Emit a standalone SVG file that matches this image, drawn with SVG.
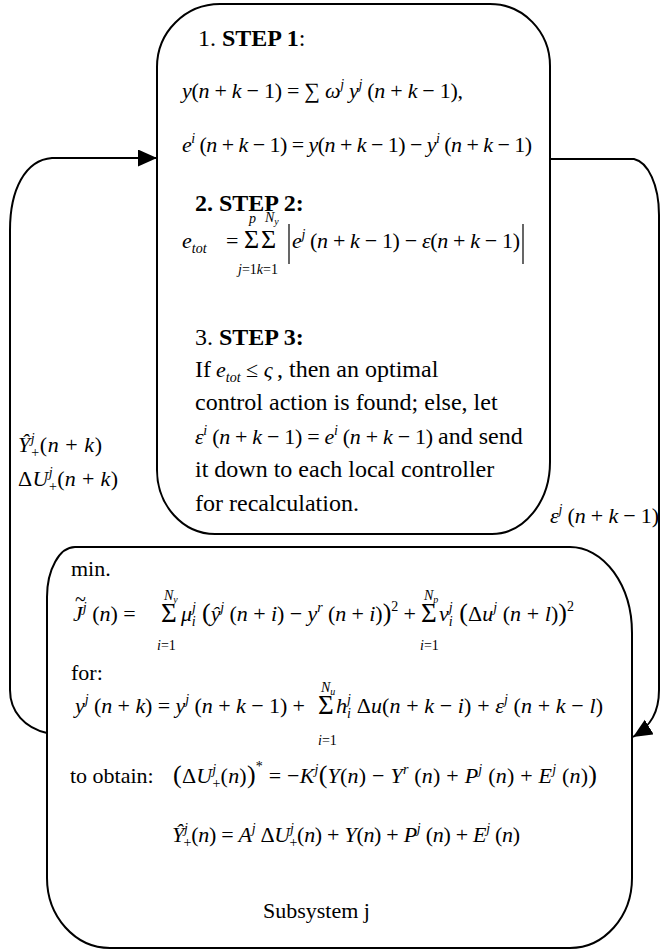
<svg xmlns="http://www.w3.org/2000/svg" width="661" height="951" viewBox="0 0 661 951">
<defs>
<style>
.t{font-family:"Liberation Serif","Times New Roman",serif;font-size:24px;fill:#000}
.u{font-family:"Liberation Serif","Times New Roman",serif;font-size:22px;fill:#000}
.m{font-family:"Liberation Serif","Times New Roman",serif;font-size:22px;fill:#000}
.i{font-style:italic}
.b{font-weight:bold}
.s{font-size:14px;font-style:italic}
.sn{font-size:14px;font-style:normal}
.g{font-size:26px;font-style:normal}
.gb{font-size:27px;font-style:normal}
.gp{font-size:26px}
.box{fill:none;stroke:#000;stroke-width:2}
.con{fill:none;stroke:#000;stroke-width:2}
.bar{stroke:#000;stroke-width:1.2}
</style>
<marker id="ah" markerUnits="userSpaceOnUse" markerWidth="20" markerHeight="18" refX="19" refY="8.5" orient="auto"><path d="M0,0 L19,8.5 L0,17 z" fill="#000"/></marker>
</defs>
<rect width="661" height="951" fill="#fff"/>

<g id="connectors">
<path class="con" d="M47 733 C25 728 10 712 10 690 V230 C10 190 25 160 52 158 H157" marker-end="url(#ah)"/>
<path class="con" d="M550 159 H634 C648 162 659 185 659 215 V690 C659 712 651 726 633 737" marker-end="url(#ah)"/>
</g>

<g id="connector-labels">
<text class="m" x="18" y="452" textLength="84" lengthAdjust="spacing"><tspan class="i">Ŷ</tspan><tspan class="s" dy="-9">j</tspan><tspan class="sn" dx="-4" dy="14">+</tspan><tspan dy="-5">(</tspan><tspan class="i">n</tspan> + <tspan class="i">k</tspan>)</text>
<text class="m" x="18" y="486" textLength="100" lengthAdjust="spacing">Δ<tspan class="i">U</tspan><tspan class="s" dy="-9">j</tspan><tspan class="sn" dx="-4" dy="14">+</tspan><tspan dy="-5">(</tspan><tspan class="i">n</tspan> + <tspan class="i">k</tspan>)</text>
<text class="m" x="550" y="523" textLength="109" lengthAdjust="spacing"><tspan class="i">ε</tspan><tspan class="s" dy="-9">j</tspan> <tspan dy="9">(</tspan><tspan class="i">n</tspan> + <tspan class="i">k</tspan> − 1)</text>
</g>

<g id="coordinator">
<path class="box" d="M220 4 H490 A60 62 0 0 1 550 66 V462 A58 72 0 0 1 492 534 H215 A58 64 0 0 1 157 470 V67 A63 63 0 0 1 220 4 Z"/>
<text class="t" x="198" y="46">1. <tspan class="b">STEP 1</tspan>:</text>
<text class="m" x="182" y="98" textLength="281" lengthAdjust="spacing"><tspan class="i">y</tspan>(<tspan class="i">n</tspan> + <tspan class="i">k</tspan> − 1) = ∑ <tspan class="i">ω</tspan><tspan class="s" dy="-9">j</tspan> <tspan class="i" dy="9">y</tspan><tspan class="s" dy="-9">j</tspan> <tspan dy="9">(</tspan><tspan class="i">n</tspan> + <tspan class="i">k</tspan> − 1),</text>
<text class="m" x="182" y="152" textLength="350" lengthAdjust="spacing"><tspan class="i">e</tspan><tspan class="s" dy="-9">i</tspan> <tspan dy="9">(</tspan><tspan class="i">n</tspan> + <tspan class="i">k</tspan> − 1) = <tspan class="i">y</tspan>(<tspan class="i">n</tspan> + <tspan class="i">k</tspan> − 1) − <tspan class="i">y</tspan><tspan class="s" dy="-9">i</tspan> <tspan dy="9">(</tspan><tspan class="i">n</tspan> + <tspan class="i">k</tspan> − 1)</text>

<text class="t b" x="195" y="211">2. STEP 2:</text>
<text class="m" x="182" y="248"><tspan class="i">e</tspan><tspan class="s" dy="5">tot</tspan></text>
<text class="m" x="226" y="248">=</text>
<text class="m g" x="244" y="248">Σ</text>
<text class="m g" x="261" y="248">Σ</text>
<text class="m s" x="249" y="223">p</text>
<text class="m s" x="265" y="222">N<tspan style="font-size:10px" dy="3">y</tspan></text>
<text class="m s" x="238" y="274">j<tspan class="sn">=1</tspan>k<tspan class="sn">=1</tspan></text>
<line class="bar" x1="289" y1="224" x2="289" y2="264"/>
<text class="m" x="292" y="248" textLength="228" lengthAdjust="spacing"><tspan class="i">e</tspan><tspan class="s" dy="-9">j</tspan> <tspan dy="9">(</tspan><tspan class="i">n</tspan> + <tspan class="i">k</tspan> − 1) − <tspan class="i">ε</tspan>(<tspan class="i">n</tspan> + <tspan class="i">k</tspan> − 1)</text>
<line class="bar" x1="523" y1="224" x2="523" y2="264"/>

<text class="t" x="195" y="345">3. <tspan class="b">STEP 3:</tspan></text>
<text class="t" x="195" y="377">If</text>
<text class="m" x="216" y="377"><tspan class="i">e</tspan><tspan class="s" dy="5">tot</tspan><tspan dy="-5"> ≤ </tspan><tspan class="i">ς</tspan></text>
<text class="t" x="277" y="377">, then an optimal</text>
<text class="t" x="195" y="410">control action is found; else, let</text>
<text class="m" x="195" y="444" textLength="238" lengthAdjust="spacing"><tspan class="i">ε</tspan><tspan class="s" dy="-9">i</tspan> <tspan dy="9">(</tspan><tspan class="i">n</tspan> + <tspan class="i">k</tspan> − 1) = <tspan class="i">e</tspan><tspan class="s" dy="-9">i</tspan> <tspan dy="9">(</tspan><tspan class="i">n</tspan> + <tspan class="i">k</tspan> − 1)</text>
<text class="t" x="438" y="444">and send</text>
<text class="t" x="195" y="477">it down to each local controller</text>
<text class="t" x="195" y="511">for recalculation.</text>
</g>

<g id="subsystem">
<path class="box" d="M75 547 H570 A62 86 0 0 1 632 633 V878 A62 70 0 0 1 570 948 H110 A63 70 0 0 1 47 878 V597 A28 50 0 0 1 75 547 Z"/>
<text class="u" x="71" y="576">min.</text>
<text class="m" x="75" y="606" style="font-size:20px">~</text>
<text class="m" x="73" y="621"><tspan class="i">J</tspan><tspan class="s" dy="-9">j</tspan> <tspan dy="9">(</tspan><tspan class="i">n</tspan>) =</text>
<text class="m gb" x="161" y="622">Σ</text>
<text class="m s" x="164" y="600">N<tspan style="font-size:10px" dy="3">y</tspan></text>
<text class="m s" x="157" y="650">i<tspan class="sn">=1</tspan></text>
<text class="m" x="181" y="621" textLength="235" lengthAdjust="spacing"><tspan class="i">μ</tspan><tspan class="s" dy="-9">j</tspan><tspan class="s" dx="-4" dy="14">i</tspan><tspan class="gp" dy="-5"> (</tspan><tspan class="i">ŷ</tspan><tspan class="s" dy="-9">j</tspan> <tspan dy="9">(</tspan><tspan class="i">n</tspan> + <tspan class="i">i</tspan>) − <tspan class="i">y</tspan><tspan class="s" dy="-9">r</tspan> <tspan dy="9">(</tspan><tspan class="i">n</tspan> + <tspan class="i">i</tspan>)<tspan class="gp">)</tspan><tspan class="sn" dy="-10">2</tspan><tspan dy="10"> +</tspan></text>
<text class="m gb" x="421" y="622">Σ</text>
<text class="m s" x="424" y="600">N<tspan style="font-size:10px" dy="3">p</tspan></text>
<text class="m s" x="420" y="650">i<tspan class="sn">=1</tspan></text>
<text class="m" x="439" y="621" textLength="135" lengthAdjust="spacing"><tspan class="i">ν</tspan><tspan class="s" dy="-9">j</tspan><tspan class="s" dx="-4" dy="14">i</tspan><tspan class="gp" dy="-5"> (</tspan>Δ<tspan class="i">u</tspan><tspan class="s" dy="-9">j</tspan> <tspan dy="9">(</tspan><tspan class="i">n</tspan> + <tspan class="i">l</tspan>)<tspan class="gp">)</tspan><tspan class="sn" dy="-10">2</tspan></text>

<text class="u" x="71" y="680">for:</text>
<text class="m" x="75" y="713" textLength="230" lengthAdjust="spacing"><tspan class="i">y</tspan><tspan class="s" dy="-9">j</tspan> <tspan dy="9">(</tspan><tspan class="i">n</tspan> + <tspan class="i">k</tspan>) = <tspan class="i">y</tspan><tspan class="s" dy="-9">j</tspan> <tspan dy="9">(</tspan><tspan class="i">n</tspan> + <tspan class="i">k</tspan> − 1) +</text>
<text class="m gb" x="318" y="714">Σ</text>
<text class="m s" x="321" y="692">N<tspan style="font-size:10px" dy="3">u</tspan></text>
<text class="m s" x="318" y="745">i<tspan class="sn">=1</tspan></text>
<text class="m" x="336" y="713" textLength="267" lengthAdjust="spacing"><tspan class="i">h</tspan><tspan class="s" dy="-9">j</tspan><tspan class="s" dx="-4" dy="14">i</tspan><tspan dy="-5"> Δ</tspan><tspan class="i">u</tspan>(<tspan class="i">n</tspan> + <tspan class="i">k</tspan> − <tspan class="i">i</tspan>) + <tspan class="i">ε</tspan><tspan class="s" dy="-9">j</tspan> <tspan dy="9">(</tspan><tspan class="i">n</tspan> + <tspan class="i">k</tspan> − <tspan class="i">l</tspan>)</text>

<text class="u" x="70" y="783">to obtain:</text>
<text class="m" x="173" y="783" textLength="424" lengthAdjust="spacing"><tspan class="gp">(</tspan>Δ<tspan class="i">U</tspan><tspan class="s" dy="-9">j</tspan><tspan class="sn" dx="-4" dy="14">+</tspan><tspan dy="-5">(</tspan><tspan class="i">n</tspan>)<tspan class="gp">)</tspan><tspan class="sn" dy="-12">*</tspan><tspan dy="12"> = −</tspan><tspan class="i">K</tspan><tspan class="s" dy="-9">j</tspan><tspan class="gp" dy="9">(</tspan><tspan class="i">Y</tspan>(<tspan class="i">n</tspan>) − <tspan class="i">Y</tspan><tspan class="s" dy="-9">r</tspan> <tspan dy="9">(</tspan><tspan class="i">n</tspan>) + <tspan class="i">P</tspan><tspan class="s" dy="-9">j</tspan> <tspan dy="9">(</tspan><tspan class="i">n</tspan>) + <tspan class="i">E</tspan><tspan class="s" dy="-9">j</tspan> <tspan dy="9">(</tspan><tspan class="i">n</tspan>)<tspan class="gp">)</tspan></text>

<text class="m" x="172" y="842" textLength="348" lengthAdjust="spacing"><tspan class="i">Ŷ</tspan><tspan class="s" dy="-9">j</tspan><tspan class="sn" dx="-4" dy="14">+</tspan><tspan dy="-5">(</tspan><tspan class="i">n</tspan>) = <tspan class="i">A</tspan><tspan class="s" dy="-9">j</tspan><tspan dy="9"> Δ</tspan><tspan class="i">U</tspan><tspan class="s" dy="-9">j</tspan><tspan class="sn" dx="-4" dy="14">+</tspan><tspan dy="-5">(</tspan><tspan class="i">n</tspan>) + <tspan class="i">Y</tspan>(<tspan class="i">n</tspan>) + <tspan class="i">P</tspan><tspan class="s" dy="-9">j</tspan> <tspan dy="9">(</tspan><tspan class="i">n</tspan>) + <tspan class="i">E</tspan><tspan class="s" dy="-9">j</tspan> <tspan dy="9">(</tspan><tspan class="i">n</tspan>)</text>

<text class="u" x="263" y="918">Subsystem j</text>
</g>
</svg>
